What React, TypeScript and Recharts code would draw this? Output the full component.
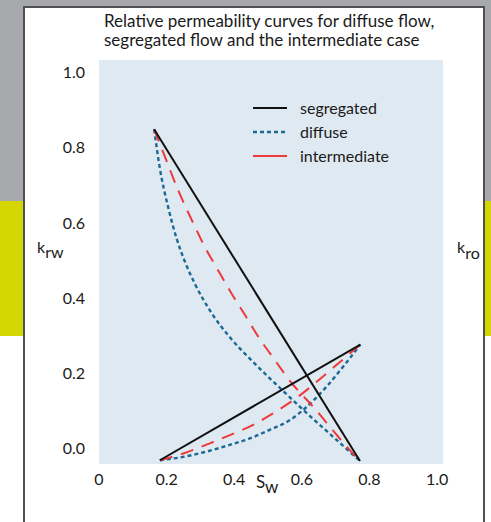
import { CartesianGrid, Legend, Line, LineChart, XAxis, YAxis } from 'recharts'

// axis ticks
const swTicks = [0, 0.2, 0.4, 0.6, 0.8, 1.0]
const kTicks = [0, 0.2, 0.4, 0.6, 0.8, 1.0]

// segregated flow (straight lines)
const segKroSw = [0.163, 0.772]
const segKroK = [0.849, -0.034]
const segKrwSw = [0.18, 0.773]
const segKrwK = [-0.032, 0.276]

// diffuse flow
const difKroSw = [0.163, 0.18, 0.205, 0.229, 0.254, 0.284, 0.333, 0.392, 0.451, 0.511, 0.57, 0.604, 0.683, 0.772]
const difKroK = [0.849, 0.745, 0.64, 0.56, 0.497, 0.437, 0.36, 0.29, 0.234, 0.181, 0.131, 0.102, 0.038, -0.034]
const difKrwSw = [0.18, 0.249, 0.318, 0.387, 0.446, 0.505, 0.565, 0.614, 0.673, 0.722, 0.773]
const difKrwK = [-0.032, -0.023, -0.009, 0.009, 0.026, 0.049, 0.075, 0.11, 0.164, 0.217, 0.276]

// intermediate case
const intKroSw = [0.163, 0.195, 0.234, 0.274, 0.313, 0.352, 0.392, 0.431, 0.471, 0.52, 0.57, 0.599, 0.634, 0.683, 0.742, 0.772]
const intKroK = [0.849, 0.776, 0.687, 0.608, 0.536, 0.474, 0.412, 0.356, 0.297, 0.235, 0.173, 0.144, 0.11, 0.057, -0.005, -0.034]
const intKrwSw = [0.18, 0.249, 0.328, 0.387, 0.456, 0.515, 0.565, 0.599, 0.644, 0.703, 0.773]
const intKrwK = [-0.032, -0.014, 0.013, 0.035, 0.062, 0.093, 0.122, 0.144, 0.177, 0.222, 0.276]

const toPoints = (sw: number[], k: number[]) => sw.map((s, i) => ({ sw: s, k: k[i] }))

const BLACK = '#111111'
const BLUE = '#1c6994'
const RED = '#ec3a3a'

const series = [
  { name: 'segregated', stroke: BLACK, dash: undefined as string | undefined, width: 2 },
  { name: 'diffuse', stroke: BLUE, dash: '4 3', width: 2.4 },
  { name: 'intermediate', stroke: RED, dash: undefined as string | undefined, width: 2 },
]

const renderLegend = () => (
  <div style={{ display: 'flex', flexDirection: 'column' }}>
    {series.map((s) => (
      <div key={s.name} style={{ display: 'flex', alignItems: 'center', height: 24 }}>
        <svg width={34} height={4} style={{ marginRight: 13 }}>
          <line x1={0} y1={2} x2={34} y2={2} stroke={s.stroke} strokeWidth={s.width} strokeDasharray={s.dash} />
        </svg>
        <span style={{ fontSize: 16, color: '#1a1a1a', lineHeight: '24px' }}>{s.name}</span>
      </div>
    ))}
  </div>
)

export default function App() {
  const fmt = (v: number) => (v === 0 ? '0' : v.toFixed(1))
  return (
    <div
      style={{
        position: 'absolute',
        left: 0,
        top: 0,
        width: 491,
        height: 522,
        overflow: 'hidden',
        background: '#ffffff',
        fontFamily: 'Lato, "Open Sans", sans-serif',
        color: '#1a1a1a',
      }}
    >
      <div style={{ position: 'absolute', left: 0, top: 0, width: 491, height: 201, background: '#a7a9ac' }} />
      <div style={{ position: 'absolute', left: 0, top: 201, width: 491, height: 135, background: '#d3d600' }} />
      <div
        style={{
          position: 'absolute',
          left: 23,
          top: 6,
          width: 458,
          height: 540,
          background: '#ffffff',
          border: '2px solid #505050',
        }}
      />
      <div style={{ position: 'absolute', left: 0, top: 0 }}>
        <LineChart width={491} height={522} margin={{ top: 60, right: 48, left: 0, bottom: 28 }}>
          <CartesianGrid fill="#dfe9f2" stroke="none" />
          <XAxis
            type="number"
            dataKey="sw"
            domain={[0, 1.0175]}
            ticks={swTicks}
            tickFormatter={fmt}
            allowDataOverflow
            axisLine={false}
            tickLine={false}
            tickMargin={4}
            height={30}
            tick={{ fill: '#1a1a1a', fontSize: 16 }}
          />
          <YAxis
            type="number"
            dataKey="k"
            domain={[-0.042, 1.0335]}
            ticks={kTicks}
            tickFormatter={(v: number) => v.toFixed(1)}
            allowDataOverflow
            axisLine={false}
            tickLine={false}
            tickMargin={8}
            width={99}
            tick={{ fill: '#1a1a1a', fontSize: 16 }}
          />
          <Legend
            layout="vertical"
            align="center"
            verticalAlign="middle"
            content={renderLegend}
            wrapperStyle={{ position: 'absolute', left: 253, top: 96, width: 170 }}
          />
          <Line data={toPoints(difKroSw, difKroK)} dataKey="k" name="diffuse" type="monotone" stroke={BLUE} strokeWidth={2.4} strokeDasharray="4 3" dot={false} activeDot={false} isAnimationActive={false} />
          <Line data={toPoints(difKrwSw, difKrwK)} dataKey="k" name="diffuse krw" type="monotone" stroke={BLUE} strokeWidth={2.4} strokeDasharray="4 3" dot={false} activeDot={false} isAnimationActive={false} legendType="none" />
          <Line data={toPoints(intKroSw, intKroK)} dataKey="k" name="intermediate" type="monotone" stroke={RED} strokeWidth={2} strokeDasharray="13 9" dot={false} activeDot={false} isAnimationActive={false} />
          <Line data={toPoints(intKrwSw, intKrwK)} dataKey="k" name="intermediate krw" type="monotone" stroke={RED} strokeWidth={2} strokeDasharray="13 9" dot={false} activeDot={false} isAnimationActive={false} legendType="none" />
          <Line data={toPoints(segKroSw, segKroK)} dataKey="k" name="segregated" type="linear" stroke={BLACK} strokeWidth={2} dot={false} activeDot={false} isAnimationActive={false} />
          <Line data={toPoints(segKrwSw, segKrwK)} dataKey="k" name="segregated krw" type="linear" stroke={BLACK} strokeWidth={2} dot={false} activeDot={false} isAnimationActive={false} legendType="none" />
        </LineChart>
      </div>
      <svg width={491} height={522} style={{ position: 'absolute', left: 0, top: 0, pointerEvents: 'none' }}>
        <g fill="#1a1a1a" fontFamily='Lato, "Open Sans", sans-serif'>
          <text x={104} y={27} fontSize={17}>Relative permeability curves for diffuse flow,</text>
          <text x={104} y={46} fontSize={17}>segregated flow and the intermediate case</text>
          <text x={37} y={253} fontSize={16}>
            k<tspan dy={5}>rw</tspan>
          </text>
          <text x={457} y={253} fontSize={16}>
            k<tspan dy={6}>ro</tspan>
          </text>
          <text x={256} y={488} fontSize={17}>
            S<tspan dy={5}>w</tspan>
          </text>
        </g>
      </svg>
    </div>
  )
}
